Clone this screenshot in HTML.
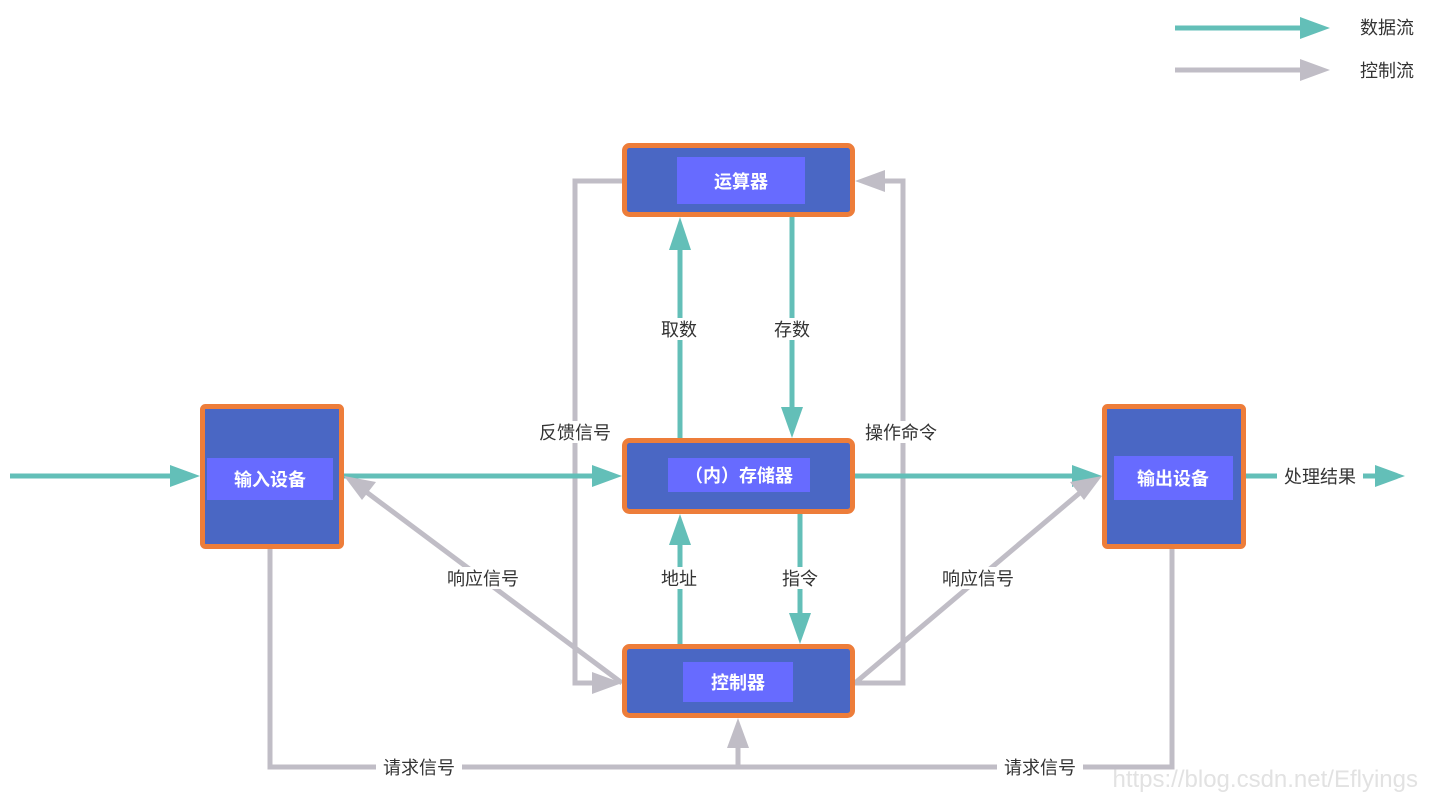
<!DOCTYPE html>
<html><head><meta charset="utf-8"><style>
html,body{margin:0;padding:0;background:#fff;}
svg{display:block;}
text{font-family:"Liberation Sans","Noto Sans CJK SC",sans-serif;}
</style></head><body>
<svg width="1452" height="798" viewBox="0 0 1452 798" xmlns="http://www.w3.org/2000/svg">
<defs>
<marker id="t" markerWidth="10" markerHeight="8" refX="9" refY="4" orient="auto" markerUnits="userSpaceOnUse" viewBox="0 0 10 8"></marker>
</defs>
<g fill="none" stroke-width="5">
<!-- gray control lines -->
<g stroke="#c0bdc6">
<polyline points="622,181 575,181 575,683 600,683"/>
<polyline points="855,683 903,683 903,181 880,181"/>
<line x1="622" y1="683" x2="365" y2="491"/>
<line x1="855" y1="683" x2="1082" y2="491"/>
<polyline points="270,549 270,767 1172,767 1172,549"/>
<line x1="738" y1="767" x2="738" y2="742"/>
<line x1="1175" y1="70" x2="1305" y2="70"/>
</g>
<!-- teal data lines -->
<g stroke="#63bfb8">
<line x1="10" y1="476" x2="175" y2="476"/>
<line x1="344" y1="476" x2="597" y2="476"/>
<line x1="855" y1="476" x2="1077" y2="476"/>
<line x1="1246" y1="476" x2="1380" y2="476"/>
<line x1="680" y1="438" x2="680" y2="245"/>
<line x1="792" y1="217" x2="792" y2="412"/>
<line x1="680" y1="644" x2="680" y2="540"/>
<line x1="800" y1="514" x2="800" y2="618"/>
<line x1="1175" y1="28" x2="1305" y2="28"/>
</g>
</g>
<!-- arrowheads teal -->
<g fill="#63bfb8">
<polygon points="200,476 170,465 170,487"/>
<polygon points="622,476 592,465 592,487"/>
<polygon points="1102,476 1072,465 1072,487"/>
<polygon points="1405,476 1375,465 1375,487"/>
<polygon points="680,217 669,250 691,250"/>
<polygon points="792,438 781,407 803,407"/>
<polygon points="680,514 669,545 691,545"/>
<polygon points="800,644 789,613 811,613"/>
<polygon points="1330,28 1300,17 1300,39"/>
</g>
<!-- arrowheads gray -->
<g fill="#c0bdc6">
<polygon points="622,683 592,672 592,694"/>
<polygon points="855,181 885,170 885,192"/>
<polygon points="344,476 376,482 362,500"/>
<polygon points="1102,476 1070,482 1084,500"/>
<polygon points="738,718 727,748 749,748"/>
<polygon points="1330,70 1300,59 1300,81"/>
</g>
<!-- boxes -->
<g stroke="#ed7d3a" stroke-width="5" fill="#4a67c4">
<rect x="624.5" y="145.5" width="228" height="69" rx="5"/>
<rect x="624.5" y="440.5" width="228" height="71" rx="5"/>
<rect x="624.5" y="646.5" width="228" height="69" rx="5"/>
<rect x="202.5" y="406.5" width="139" height="140" rx="3"/>
<rect x="1104.5" y="406.5" width="139" height="140" rx="3"/>
</g>
<g fill="#676bff">
<rect x="677" y="157" width="128" height="47"/>
<rect x="668" y="458" width="142" height="34"/>
<rect x="683" y="662" width="110" height="40"/>
<rect x="207" y="458" width="126" height="42"/>
<rect x="1114" y="456" width="119" height="44"/>
</g>
<g fill="#fff" font-size="18" font-weight="bold" text-anchor="middle">
<text x="741" y="188">运算器</text>
<text x="739" y="482">（内）存储器</text>
<text x="738" y="689">控制器</text>
<text x="270" y="486">输入设备</text>
<text x="1173" y="485">输出设备</text>
</g>
<!-- label backgrounds -->
<g fill="#fff">
<rect x="533" y="421" width="84" height="22"/>
<rect x="858" y="421" width="86" height="22"/>
<rect x="655" y="318" width="48" height="22"/>
<rect x="768" y="318" width="48" height="22"/>
<rect x="655" y="567" width="48" height="22"/>
<rect x="776" y="567" width="48" height="22"/>
<rect x="440" y="567" width="86" height="22"/>
<rect x="935" y="567" width="86" height="22"/>
<rect x="376" y="756" width="86" height="22"/>
<rect x="997" y="756" width="86" height="22"/>
<rect x="1277" y="465" width="86" height="22"/>
</g>
<g fill="#333" font-size="18" text-anchor="middle">
<text x="575" y="439">反馈信号</text>
<text x="901" y="439">操作命令</text>
<text x="679" y="336">取数</text>
<text x="792" y="336">存数</text>
<text x="679" y="585">地址</text>
<text x="800" y="585">指令</text>
<text x="483" y="585">响应信号</text>
<text x="978" y="585">响应信号</text>
<text x="419" y="774">请求信号</text>
<text x="1040" y="774">请求信号</text>
<text x="1320" y="483">处理结果</text>
<text x="1387" y="34">数据流</text>
<text x="1387" y="77">控制流</text>
</g>
<text x="1418" y="787" text-anchor="end" font-size="24" fill="#e2e2e2">https://blog.csdn.net/Eflyings</text>
</svg>
</body></html>
